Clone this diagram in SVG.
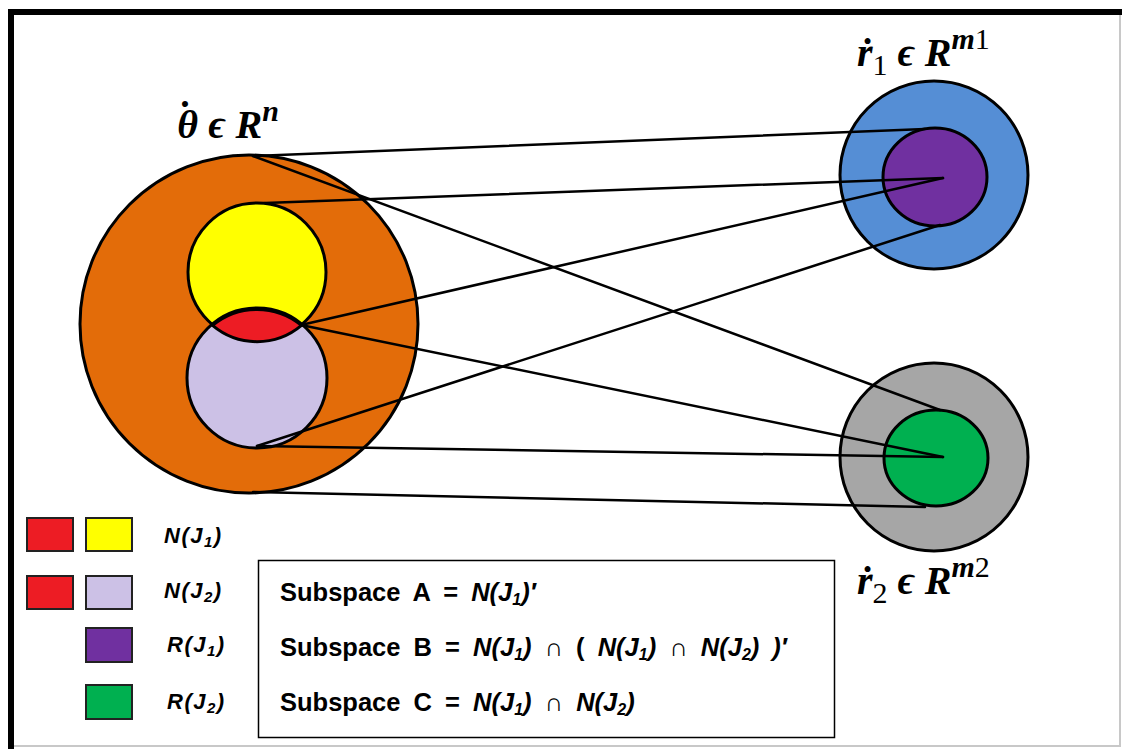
<svg xmlns="http://www.w3.org/2000/svg" width="1122" height="749" viewBox="0 0 1122 749">
<style>
.c{stroke:#000;stroke-width:3}
.ln{stroke:#000;stroke-width:2.5;fill:none;stroke-linecap:round}
.sw{stroke:#222;stroke-width:2}
.math{font-family:"Liberation Serif","DejaVu Serif",serif;font-weight:bold;font-style:italic;font-size:40px;fill:#000}
.up{font-style:normal;font-weight:normal}
.lg{font-family:"Liberation Sans",Arial,sans-serif;font-style:italic;font-weight:bold;font-size:22px;letter-spacing:1.5px;fill:#000}
.bx{font-family:"Liberation Sans",Arial,sans-serif;font-weight:bold;font-size:25.5px;fill:#000;word-spacing:6px}
.it{font-style:italic}
</style>
<rect x="0" y="0" width="1122" height="749" fill="#fff"/>
<g id="frame">
<rect x="10" y="11" width="1110" height="735" fill="none" stroke="#c8c8c8" stroke-width="2"/>
<line x1="8" y1="12" x2="1122" y2="12" stroke="#000" stroke-width="6"/>
<line x1="11" y1="9" x2="11" y2="749" stroke="#000" stroke-width="6"/>
</g>
<g id="theta-space">
<circle class="c" cx="249" cy="324" r="169" fill="#E36C09"/>
</g>
<g id="N-J1">
<circle class="c" cx="257" cy="272" r="69" fill="#FFFF00"/>
</g>
<g id="N-J2">
<circle class="c" cx="257" cy="378" r="70" fill="#CCC1E6"/>
</g>
<g id="intersection">
<path class="c" d="M212.5 325.4 A70 70 0 0 1 301.5 325.4 A69 69 0 0 1 212.5 325.4 Z" fill="#ED1C24"/>
</g>
<g id="r1-space">
<circle class="c" cx="934" cy="175" r="94" fill="#558ED5"/>
</g>
<g id="R-J1">
<ellipse class="c" cx="935" cy="177" rx="52" ry="49" fill="#7030A0"/>
</g>
<g id="r2-space">
<circle class="c" cx="934" cy="457" r="94" fill="#A6A6A6"/>
</g>
<g id="R-J2">
<ellipse class="c" cx="936" cy="458" rx="52" ry="48" fill="#00B050"/>
</g>
<g id="connectors">
<line class="ln" x1="253" y1="156" x2="925" y2="129"/>
<line class="ln" x1="253" y1="156" x2="940" y2="410"/>
<line class="ln" x1="265" y1="203" x2="943" y2="178"/>
<line class="ln" x1="301" y1="325" x2="943" y2="178"/>
<line class="ln" x1="301" y1="325" x2="943" y2="457"/>
<line class="ln" x1="257" y1="446" x2="943" y2="457"/>
<line class="ln" x1="257" y1="446" x2="940" y2="225"/>
<line class="ln" x1="253" y1="492" x2="925" y2="507"/>
</g>
<g id="labels">
<text class="math" x="176" y="138">θ<tspan dx="-22" dy="-9">˙</tspan><tspan dx="9" dy="9"> ϵ R</tspan><tspan dy="-17" font-size="30">n</tspan></text>
<text class="math" x="857" y="66">ṙ<tspan class="up" dy="9" font-size="30">1</tspan><tspan dy="-9"> ϵ R</tspan><tspan dy="-17" font-size="30">m</tspan><tspan class="up" font-size="30">1</tspan></text>
<text class="math" x="857" y="594">ṙ<tspan class="up" dy="9" font-size="30">2</tspan><tspan dy="-9"> ϵ R</tspan><tspan dy="-17" font-size="30">m</tspan><tspan class="up" font-size="30">2</tspan></text>
</g>
<g id="legend">
<rect class="sw" x="27" y="518" width="46" height="33" fill="#ED1C24"/>
<rect class="sw" x="86" y="518" width="46" height="33" fill="#FFFF00"/>
<rect class="sw" x="27" y="576" width="46" height="33" fill="#ED1C24"/>
<rect class="sw" x="86" y="576" width="46" height="33" fill="#CCC1E6"/>
<rect class="sw" x="86" y="628" width="46" height="34" fill="#7030A0"/>
<rect class="sw" x="86" y="685" width="46" height="34" fill="#00B050"/>
<text class="lg" x="164" y="543">N(J<tspan font-size="15" dy="4">1</tspan><tspan dy="-4">)</tspan></text>
<text class="lg" x="164" y="598">N(J<tspan font-size="15" dy="4">2</tspan><tspan dy="-4">)</tspan></text>
<text class="lg" x="167" y="652">R(J<tspan font-size="15" dy="4">1</tspan><tspan dy="-4">)</tspan></text>
<text class="lg" x="167" y="709">R(J<tspan font-size="15" dy="4">2</tspan><tspan dy="-4">)</tspan></text>
</g>
<g id="subspace-box">
<rect x="258.5" y="560.5" width="576" height="177" fill="#fff" stroke="#000" stroke-width="1.5"/>
<text class="bx" x="280" y="601">Subspace A = <tspan class="it">N(J<tspan font-size="16" dy="4">1</tspan><tspan dy="-4">)′</tspan></tspan></text>
<text class="bx" x="280" y="656">Subspace B = <tspan class="it">N(J<tspan font-size="16" dy="4">1</tspan><tspan dy="-4">)</tspan></tspan> ∩  ( <tspan class="it">N(J<tspan font-size="16" dy="4">1</tspan><tspan dy="-4">)</tspan></tspan> ∩  <tspan class="it">N(J<tspan font-size="16" dy="4">2</tspan><tspan dy="-4">) )′</tspan></tspan></text>
<text class="bx" x="280" y="711">Subspace C = <tspan class="it">N(J<tspan font-size="16" dy="4">1</tspan><tspan dy="-4">)</tspan></tspan> ∩ <tspan class="it">N(J<tspan font-size="16" dy="4">2</tspan><tspan dy="-4">)</tspan></tspan></text>
</g>
</svg>
